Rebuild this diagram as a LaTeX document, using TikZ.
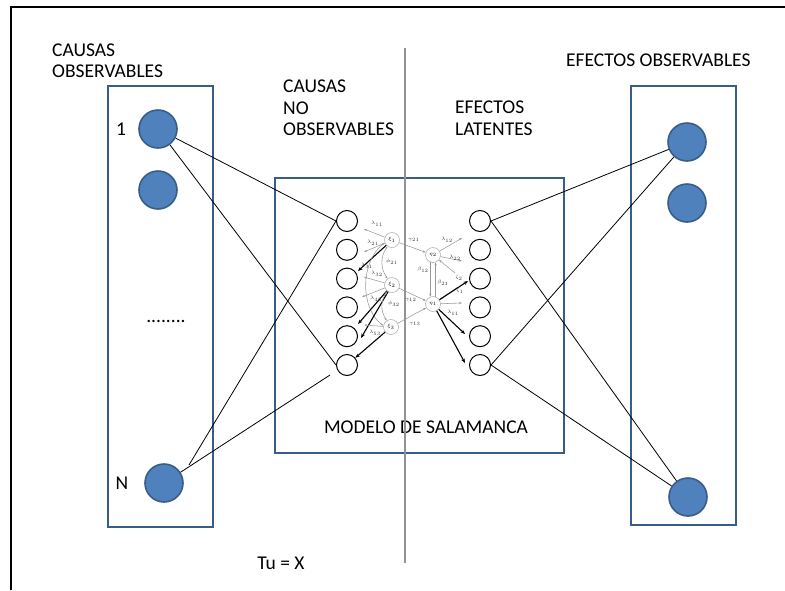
\documentclass[tikz,border=0pt]{standalone}
\usepackage{fontspec}
\setmainfont{Carlito}
\usetikzlibrary{arrows.meta, calc, positioning}

\definecolor{boxblue}{HTML}{385D8A}
\definecolor{fillblue}{HTML}{4F81BD}

\begin{document}
\begin{tikzpicture}[x=1pt, y=-1pt,
    font=\fontsize{19.5}{21.5}\selectfont,
    panel/.style={draw=boxblue, line width=2pt},
    obsnode/.style={circle, draw=boxblue, line width=1.6pt, fill=fillblue, minimum size=38pt, inner sep=0pt},
    itemnode/.style={circle, draw=black, line width=1pt, minimum size=21pt, inner sep=0pt},
    latnode/.style={circle, draw=gray!60, line width=0.6pt, minimum size=15pt, inner sep=0pt, font=\fontsize{5.5}{6}\selectfont},
    lbl/.style={font=\fontsize{5.5}{6}\selectfont, text=black!80, inner sep=0pt},
    thinarr/.style={draw=gray!80, line width=0.55pt, -{Stealth[length=3pt, width=2.2pt]}},
    twoarr/.style={draw=gray!80, line width=0.55pt, {Stealth[length=3pt, width=2.2pt]}-{Stealth[length=3pt, width=2.2pt]}},
    thickarr/.style={draw=black, line width=1.1pt, -{Stealth[length=4.5pt, width=3.5pt]}},
    link/.style={draw=black, line width=0.8pt},
    title/.style={anchor=north west, align=left, inner sep=0pt}
]
    % ==========================================
    % PARAMETRI
    % ==========================================
    \def\xsl{347}    % colonna indicatori di sinistra
    \def\xsr{480}    % colonna indicatori di destra
    \def\ytop{221}   % primo indicatore
    \def\dy{28.8}    % passo verticale degli indicatori

    \useasboundingbox (0,0) rectangle (785,590);

    % cornice (solo lati superiore e sinistro)
    \draw [line width=1.3pt] (11,590) -- (11,7) -- (785,7);

    % ==========================================
    % PANNELLI
    % ==========================================
    \draw [panel] (108,86) rectangle (213,527);
    \draw [panel] (631,86) rectangle (736,525);
    \draw [panel] (275,178) rectangle (564,453);

    % ==========================================
    % TESTI
    % ==========================================
    \node [title] (causasobs) at (52,43.5) {CAUSAS\\OBSERVABLES};
    \node [title] (causasno) at (283,79.7) {CAUSAS\\NO\\OBSERVABLES};
    \node [title] (efectoslat) at (455,100.7) {EFECTOS\\LATENTES};
    \node [title] (efectosobs) at (566,53.7) {EFECTOS OBSERVABLES};
    \node (modelo) at (426,427) {MODELO DE SALAMANCA};
    \node (tux) at (281,563) {Tu = X};
    \node (uno) at (121,129) {1};
    \node (ene) at (122,483) {N};
    \node (puntos) at (166,321) {........};

    % linea verticale
    \draw [gray!85, line width=1.1pt] (405,48) -- (405,563);

    % ==========================================
    % CAUSE ED EFFETTI OSSERVABILI
    % ==========================================
    \node [obsnode] (cl1) at (158,129) {};
    \node [obsnode] (cl2) at (158,190) {};
    \node [obsnode] (clN) at (164,483) {};
    \node [obsnode] (cr1) at (687,142) {};
    \node [obsnode] (cr2) at (687,203) {};
    \node [obsnode] (crN) at (688,497) {};

    % indicatori
    \foreach \i in {1,...,6} {
        \node [itemnode] (sl\i) at (\xsl, {\ytop+(\i-1)*\dy}) {};
        \node [itemnode] (sr\i) at (\xsr, {\ytop+(\i-1)*\dy}) {};
    }

    % collegamenti
    \coordinate (nstart) at (189,465);
    \coordinate (nend) at (330,375);
    \draw [link] (cl1) -- (sl1.west);
    \draw [link] (cl1) -- (sl6.west);
    \draw [link] (nstart) -- (sl1.west);
    \draw [link] (clN) -- (nend);
    \draw [link] (cr1) -- (sr1.east);
    \draw [link] (cr1) -- (sr6.east);
    \draw [link] (crN) -- (sr1.east);
    \draw [link] (crN) -- (sr6.east);

    % ==========================================
    % MODELLO STRUTTURALE
    % ==========================================
    \node [latnode] (xi1) at (392,240) {$\xi_1$};
    \node [latnode] (xi2) at (392,285) {$\xi_2$};
    \node [latnode] (xi3) at (391,327) {$\xi_3$};
    \node [latnode] (eta2) at (433,255) {$\eta_2$};
    \node [latnode] (eta1) at (433,304) {$\eta_1$};

    % estremi liberi delle frecce
    \coordinate (a11) at (364,229);
    \coordinate (a21) at (364,252);
    \coordinate (a31) at (358,271);
    \coordinate (a32) at (364,277);
    \coordinate (a42) at (362,297);
    \coordinate (a52) at (358,324);
    \coordinate (a62) at (361,338);
    \coordinate (a53) at (364,325);
    \coordinate (b12) at (462,238);
    \coordinate (b22) at (462,261);
    \coordinate (z2) at (455,273);
    \coordinate (z1) at (458,287);
    \coordinate (b31) at (468,281);
    \coordinate (b11) at (462,303);
    \coordinate (b51) at (465,334);
    \coordinate (b61) at (465,363);

    % lato sinistro
    \draw [thinarr] (xi1) -- (a11);
    \draw [thinarr] (xi1) -- (a21);
    \draw [thickarr] (xi1) -- (a31);
    \draw [twoarr] (xi1) to[bend right=35] (xi2);
    \draw [twoarr] (xi1.200) .. controls (360,262) and (360,308) .. (xi3.170);
    \draw [thinarr] (xi2) -- (a32);
    \draw [thinarr] (xi2) -- (a42);
    \draw [thickarr] (xi2) -- (a52);
    \draw [thickarr] (xi2) -- (a62);
    \draw [twoarr] (xi2) to[bend right=35] (xi3);
    \draw [thinarr] (xi3) -- (a53);
    \draw [thickarr] (xi3) -- (sl6);

    % lato destro
    \draw [thinarr] (xi1) -- (eta2);
    \draw [thinarr] (xi2) -- (eta1);
    \draw [thinarr] (xi3) -- (eta1);
    \draw [thinarr] (eta2.250) -- (eta1.110);
    \draw [thinarr] (eta1.70) -- (eta2.290);
    \draw [thinarr] (eta2) -- (b12);
    \draw [thinarr] (eta2) -- (b22);
    \draw [thinarr] (z2) -- (eta2);
    \draw [thinarr] (z1) -- (eta1);
    \draw [thickarr] (eta1) -- (b31);
    \draw [thinarr] (eta1) -- (b11);
    \draw [thickarr] (eta1) -- (b51);
    \draw [thickarr] (eta1) -- (b61);

    % etichette
    \node [lbl] (l11) at (377,224) {$\lambda_{11}$};
    \node [lbl] (l21) at (373,243) {$\lambda_{21}$};
    \node [lbl] (l31) at (367,266) {$\lambda_{31}$};
    \node [lbl] (f21) at (392,262) {$\phi_{21}$};
    \node [lbl] (l32) at (377,274) {$\lambda_{32}$};
    \node [lbl] (l42) at (376,299) {$\lambda_{42}$};
    \node [lbl] (f32) at (394,304) {$\phi_{32}$};
    \node [lbl] (l53) at (375,333) {$\lambda_{53}$};
    \node [lbl] (g21) at (414,240) {$\gamma_{21}$};
    \node [lbl] (g12) at (411,300) {$\gamma_{12}$};
    \node [lbl] (g13) at (415,324) {$\gamma_{13}$};
    \node [lbl] (be12) at (423,270) {$\beta_{12}$};
    \node [lbl] (be21) at (443,283) {$\beta_{21}$};
    \node [lbl] (l12) at (447,240) {$\lambda_{12}$};
    \node [lbl] (l22) at (455,258) {$\lambda_{22}$};
    \node [lbl] (ze2) at (459,278) {$\zeta_2$};
    \node [lbl] (ze1) at (460,291) {$\zeta_1$};
    \node [lbl] (l11r) at (453,313) {$\lambda_{11}$};

\end{tikzpicture}
\end{document}
